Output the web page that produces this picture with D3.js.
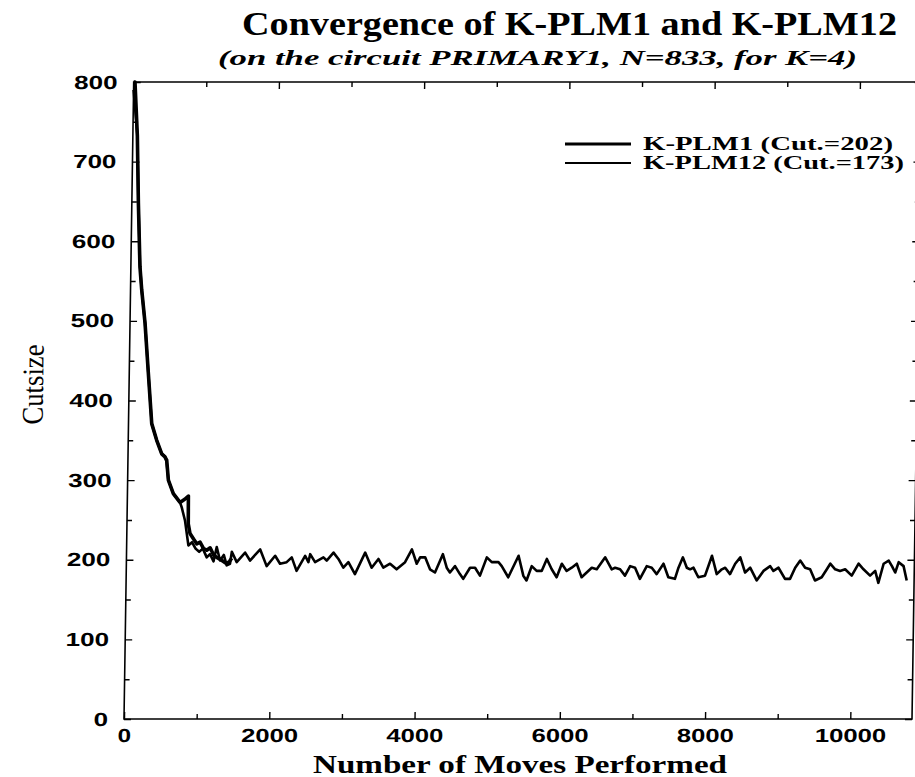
<!DOCTYPE html>
<html>
<head>
<meta charset="utf-8">
<script src="https://cdn.jsdelivr.net/npm/d3@7"></script>
<style>
  html, body { margin: 0; padding: 0; background: #fff; }
  svg { display: block; }
</style>
</head>
<body>
<svg id="chart" width="915" height="777"></svg>
<script>
// ---------- data ----------
const titleText = "Convergence of K-PLM1 and K-PLM12";
const subtitleText = "(on the circuit PRIMARY1, N=833, for K=4)";
const xAxisTitle = "Number of Moves Performed";
const yAxisTitle = "Cutsize";
const seriesNames = ["K-PLM1 (Cut.=202)", "K-PLM12 (Cut.=173)"];

const xTickValues = [0, 2000, 4000, 6000, 8000, 10000];
const xMinorTicks = [1000, 3000, 5000, 7000, 9000];
const yTickValues = [0, 100, 200, 300, 400, 500, 600, 700, 800];
const yMinorTicks = [50, 150, 250, 350, 450, 550, 650, 750];

// K-PLM1 (thick line)
const plm1Moves = [0, 18, 62, 90, 125, 154, 207, 263, 320, 392, 464, 510, 534, 561, 632, 726, 790, 840, 844, 870, 920, 965, 1010, 1060, 1104, 1150, 1200, 1243, 1300, 1382, 1420, 1450];
const plm1Cut   = [800, 800, 732, 648, 568, 539, 497, 434, 371, 350, 333, 329, 325, 300, 283, 272, 276, 280, 245, 233, 226, 220, 222, 214, 212, 215, 206, 203, 200, 195, 198, 202];

// K-PLM12 (thin line)
const plm12Moves = [0, 60, 90, 125, 154, 207, 263, 320, 392, 464, 510, 534, 561, 632, 726, 750, 799, 850, 900, 950, 1000, 1050, 1105, 1150, 1200, 1241, 1289, 1340, 1382, 1427, 1450, 1519, 1633, 1702, 1840, 1932, 2047, 2116, 2207, 2276, 2345, 2460, 2506, 2529, 2598, 2712, 2758, 2850, 2919, 2988, 3057, 3149, 3286, 3378, 3470, 3539, 3631, 3722, 3837, 3929, 3998, 4044, 4113, 4182, 4251, 4356, 4412, 4457, 4526, 4595, 4641, 4733, 4802, 4871, 4962, 5031, 5123, 5169, 5261, 5399, 5468, 5513, 5582, 5651, 5720, 5789, 5858, 5927, 5996, 6064, 6133, 6202, 6271, 6340, 6409, 6478, 6592, 6684, 6730, 6799, 6868, 6937, 7005, 7074, 7166, 7235, 7304, 7396, 7465, 7556, 7603, 7662, 7718, 7763, 7809, 7878, 7970, 8062, 8131, 8200, 8246, 8314, 8383, 8452, 8521, 8590, 8682, 8774, 8865, 8911, 8980, 9072, 9141, 9210, 9278, 9347, 9416, 9485, 9577, 9646, 9692, 9761, 9829, 9898, 9990, 10082, 10151, 10243, 10312, 10358, 10427, 10496, 10542, 10588, 10634, 10702, 10748];
const plm12Cut   = [790, 735, 650, 570, 539, 497, 434, 371, 350, 333, 330, 322, 300, 283, 272, 266, 249, 218, 222, 214, 210, 214, 203, 207, 198, 216, 199, 206, 193, 195, 210,
  197, 209, 199, 213, 192, 205, 195, 197, 203, 186,
  205, 197, 207, 197, 203, 199, 209, 201, 190, 197,
  182, 209, 190, 201, 190, 195, 188, 197, 213, 195,
  203, 203, 188, 184, 207, 190, 184, 192, 182, 176,
  190, 190, 180, 203, 197, 197, 192, 178, 205, 180,
  174, 192, 186, 186, 201, 188, 178, 195, 186, 190,
  195, 178, 184, 190, 188, 203, 188, 190, 188, 180,
  192, 190, 176, 192, 190, 182, 195, 178, 176, 190,
  203, 190, 188, 190, 178, 180, 205, 182, 188, 190,
  182, 195, 203, 184, 190, 174, 186, 192, 186, 190,
  176, 176, 190, 199, 190, 188, 174, 178, 188, 195,
  188, 186, 188, 180, 195, 188, 180, 186, 171, 195,
  199, 192, 184, 197, 192, 174];

// ---------- layout ----------
const svg = d3.select("#chart");
const plotL = 124, plotR = 912, plotT = 82, plotB = 719;
const shear = -0.0152; // slight skew of the scanned figure

const x = d3.scaleLinear().domain([0, 10850]).range([plotL, plotR]);
const y = d3.scaleLinear().domain([0, 800]).range([plotB, plotT]);

const serif = "'Liberation Serif', 'DejaVu Serif', serif";
const sans = "'Liberation Sans', Arial, sans-serif";

// titles
svg.append("text")
  .attr("x", 242).attr("y", 35)
  .attr("textLength", 655).attr("lengthAdjust", "spacingAndGlyphs")
  .style("font-family", serif).style("font-weight", "bold").style("font-size", "34px")
  .text(titleText);
svg.append("text")
  .attr("x", 218).attr("y", 65)
  .attr("textLength", 639).attr("lengthAdjust", "spacingAndGlyphs")
  .style("font-family", serif).style("font-weight", "bold").style("font-style", "italic").style("font-size", "22px")
  .text(subtitleText);

const g = svg.append("g")
  .attr("transform", `translate(0,${plotB}) skewX(${Math.atan(shear) * 180 / Math.PI}) translate(0,${-plotB})`);

// frame
g.append("rect")
  .attr("x", plotL).attr("y", plotT)
  .attr("width", plotR - plotL).attr("height", plotB - plotT)
  .attr("fill", "none").attr("stroke", "#000").attr("stroke-width", 1.6);

function styleAxis(sel) {
  sel.select(".domain").remove();
  sel.selectAll("line").attr("stroke", "#000").attr("stroke-width", 1.4);
}

const digitW = 14.5;
// left axis
const yAxisG = g.append("g").attr("transform", `translate(${plotL},0)`)
  .call(d3.axisLeft(y).tickValues(yTickValues).tickSize(-7).tickPadding(16).tickFormat(d3.format("d")));
styleAxis(yAxisG);
yAxisG.selectAll("text")
  .style("font-family", sans).style("font-weight", "bold").style("font-size", "19px").attr("fill", "#000")
  .attr("textLength", d => String(d).length * digitW).attr("lengthAdjust", "spacingAndGlyphs");
g.append("g").attr("transform", `translate(${plotL},0)`)
  .call(d3.axisLeft(y).tickValues(yMinorTicks).tickSize(-5).tickFormat(""))
  .call(styleAxis);
// right axis
g.append("g").attr("transform", `translate(${plotR},0)`)
  .call(d3.axisRight(y).tickValues(yTickValues).tickSize(-7).tickFormat(""))
  .call(styleAxis);
g.append("g").attr("transform", `translate(${plotR},0)`)
  .call(d3.axisRight(y).tickValues(yMinorTicks).tickSize(-5).tickFormat(""))
  .call(styleAxis);
// bottom axis
const xAxisG = g.append("g").attr("transform", `translate(0,${plotB})`)
  .call(d3.axisBottom(x).tickValues(xTickValues).tickSize(-7).tickPadding(10).tickFormat(d3.format("d")));
styleAxis(xAxisG);
xAxisG.selectAll("text")
  .style("font-family", sans).style("font-weight", "bold").style("font-size", "19px").attr("fill", "#000")
  .attr("textLength", d => String(d).length * digitW - 1).attr("lengthAdjust", "spacingAndGlyphs");
g.append("g").attr("transform", `translate(0,${plotB})`)
  .call(d3.axisBottom(x).tickValues(xMinorTicks).tickSize(-5).tickFormat(""))
  .call(styleAxis);
// top axis
g.append("g").attr("transform", `translate(0,${plotT})`)
  .call(d3.axisTop(x).tickValues(xTickValues.slice(1)).tickSize(-7).tickFormat(""))
  .call(styleAxis);
g.append("g").attr("transform", `translate(0,${plotT})`)
  .call(d3.axisTop(x).tickValues(xMinorTicks).tickSize(-5).tickFormat(""))
  .call(styleAxis);

// lines
const line = d3.line().x(d => x(d[0])).y(d => y(d[1])).curve(d3.curveLinear);
const plm12Data = plm12Moves.map((m, i) => [m, plm12Cut[i]]);
const plm1Data = plm1Moves.map((m, i) => [m, plm1Cut[i]]);
g.append("path").datum(plm12Data).attr("d", line)
  .attr("fill", "none").attr("stroke", "#000").attr("stroke-width", 2.6).attr("stroke-linejoin", "round");
g.append("path").datum(plm1Data).attr("d", line)
  .attr("fill", "none").attr("stroke", "#000").attr("stroke-width", 3.6).attr("stroke-linejoin", "round");

// y axis title
g.append("text")
  .attr("transform", `translate(38,${(plotT + plotB) / 2 - 16}) rotate(-90)`)
  .attr("text-anchor", "middle")
  .attr("textLength", 80).attr("lengthAdjust", "spacingAndGlyphs")
  .style("font-family", serif).style("font-size", "30px")
  .text(yAxisTitle);

// x axis title
svg.append("text")
  .attr("x", 313).attr("y", 773)
  .attr("textLength", 414).attr("lengthAdjust", "spacingAndGlyphs")
  .style("font-family", serif).style("font-weight", "bold").style("font-size", "25px")
  .text(xAxisTitle);

// legend
const legendY = [144, 163];
const legendW = [3.2, 1.8];
const legendLen = [250, 261];
seriesNames.forEach((name, i) => {
  svg.append("line")
    .attr("x1", 565).attr("x2", 631).attr("y1", legendY[i]).attr("y2", legendY[i])
    .attr("stroke", "#000").attr("stroke-width", legendW[i]);
  svg.append("text")
    .attr("x", 643).attr("y", legendY[i] + 6)
    .attr("textLength", legendLen[i]).attr("lengthAdjust", "spacingAndGlyphs")
    .style("font-family", serif).style("font-weight", "bold").style("font-size", "19px")
    .text(name);
});
</script>
</body>
</html>
